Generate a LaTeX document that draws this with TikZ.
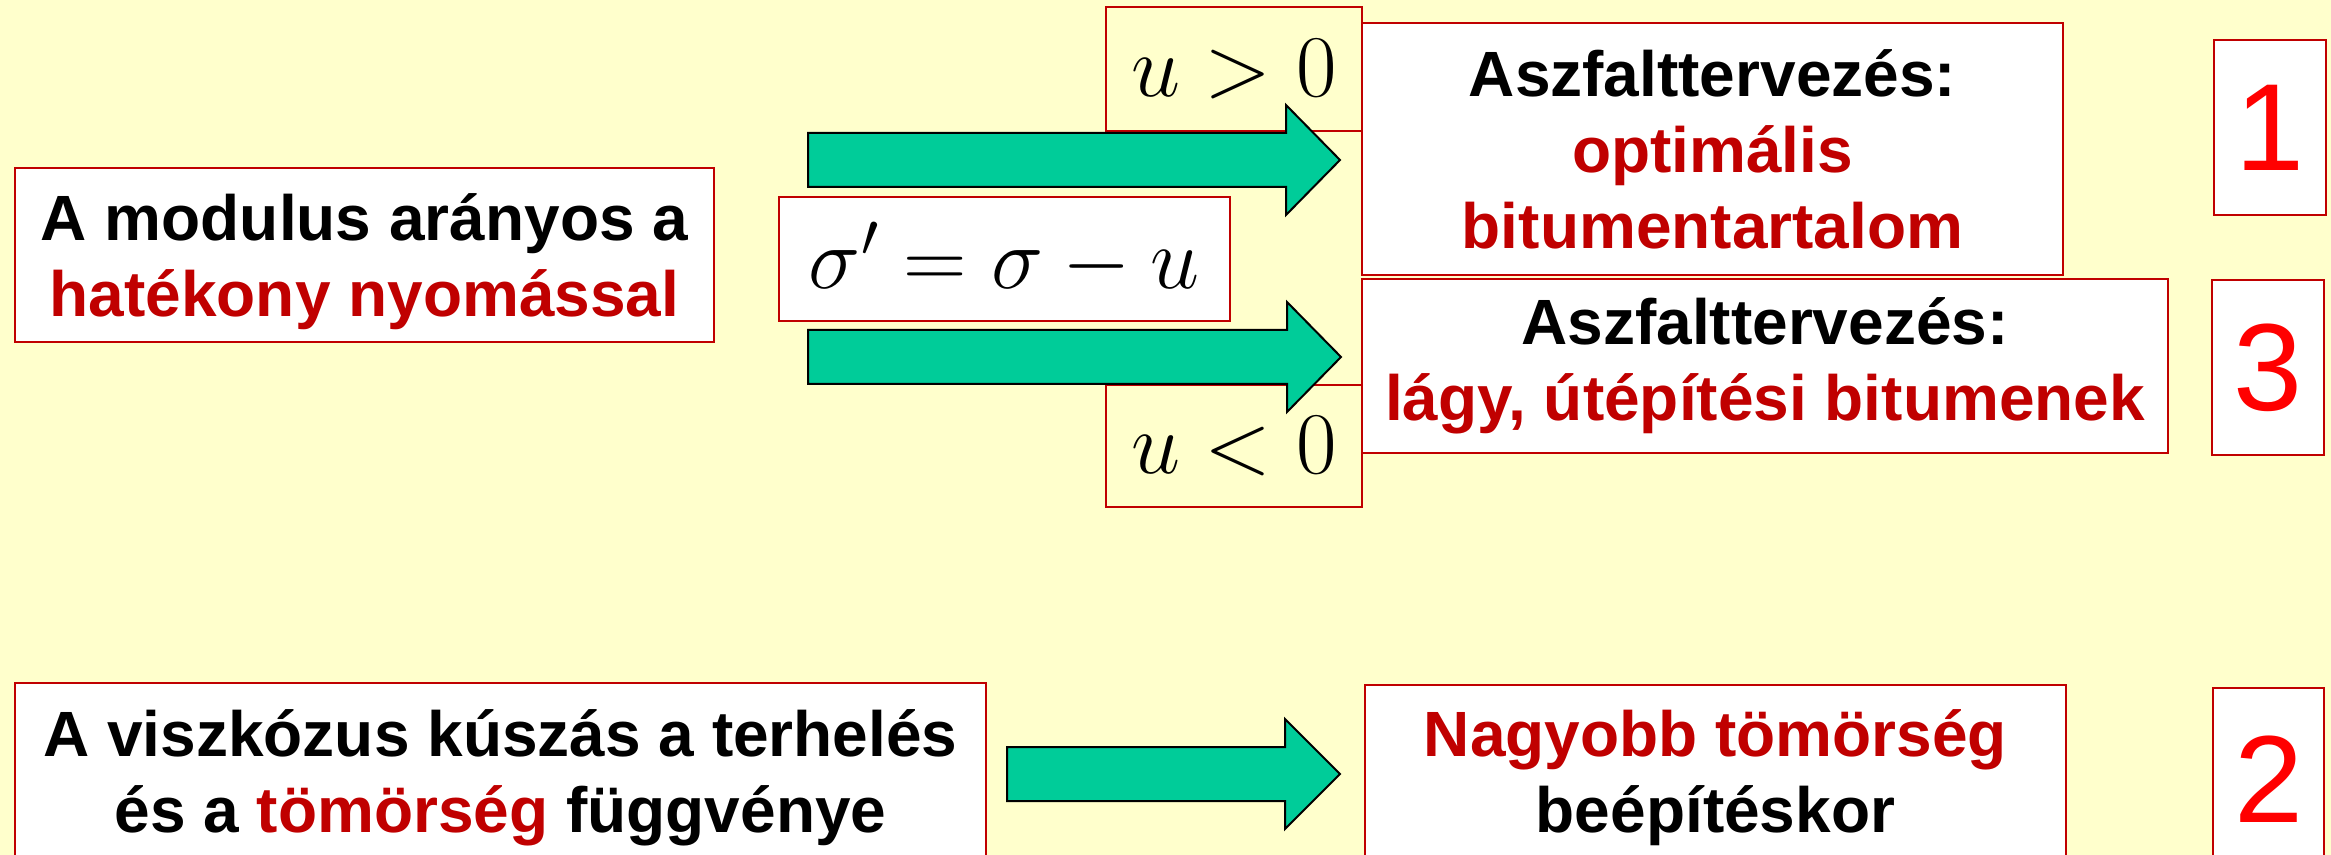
\RequirePackage{fix-cm}
\documentclass[tikz,border=0pt]{standalone}
\usepackage[no-math]{fontspec}
\setmainfont{Liberation Sans}
\definecolor{bgyellow}{HTML}{FFFFCC}
\definecolor{dred}{HTML}{C00000}
\definecolor{numred}{HTML}{FF0000}
\definecolor{arrowgreen}{HTML}{00CC99}
\tikzset{
  box/.style={draw=dred, line width=1.2pt, fill=white, inner sep=0pt, align=center,
    font=\bfseries\fontsize{32}{38}\selectfont},
  ubox/.style={draw=dred, line width=1.2pt, inner sep=0pt, font=\fontsize{44}{50}\selectfont},
  numbox/.style={draw=dred, line width=1.2pt, fill=white, inner sep=0pt, text=numred,
    font=\fontsize{62}{70}\selectfont},
  blockarrow/.style={fill=arrowgreen, draw=black, line width=1pt, line join=miter},
}
\begin{document}
\begin{tikzpicture}[x=0.5pt,y=-0.5pt]
\useasboundingbox (0,0) rectangle (2331,855);
\clip (0,0) rectangle (2331,855);
\fill[bgyellow] (0,0) rectangle (2331,855);

% top-left box
\node[box, text depth=0pt, minimum width=349.5pt, minimum height=87pt] (modA) at (364.5,255)
  {A modulus arányos a\\ {\color{dred}hatékony nyomással}};
% sigma box
\node[box, font=\fontsize{44}{50}\selectfont, minimum width=225.5pt, minimum height=62pt] (sig) at (1004.5,259)
  {$\sigma' = \sigma - u$};
% u boxes
\node[ubox, minimum width=128pt, minimum height=62pt] (uplus) at (1234,69) {$u>0$};
\node[ubox, minimum width=128pt, minimum height=61pt] (uminus) at (1234,446) {$u<0$};
% right boxes
\node[box, minimum width=350.5pt, minimum height=126pt] (asz1) at (1712.5,149)
  {Aszfalttervezés:\\ {\color{dred}optimális}\\ {\color{dred}bitumentartalom}};
\node[box, minimum width=403pt, minimum height=87pt] (asz3) at (1765,366)
  {Aszfalttervezés:\\ {\color{dred}lágy, útépítési bitumenek}};
% number boxes
\node[numbox, minimum width=56pt, minimum height=87.5pt] (n1) at (2270,127.5) {1};
\node[numbox, minimum width=56pt, minimum height=87.5pt] (n3) at (2268,367.5) {3};
\node[numbox, minimum width=55.5pt, minimum height=91pt] (n2) at (2268.5,779) {2};
% bottom boxes
\node[box, minimum width=485.5pt, minimum height=95pt] (visz) at (500.5,778)
  {A viszkózus kúszás a terhelés\\ és a {\color{dred}tömörség} függvénye};
\node[box, minimum width=350.5pt, minimum height=93pt] (nagy) at (1715.5,778)
  {{\color{dred}Nagyobb tömörség}\\ beépítéskor};

% block arrows
\draw[blockarrow] (808,133) -- (1286,133) -- (1286,105) -- (1340,160) -- (1286,215)
  -- (1286,187) -- (808,187) -- cycle;
\draw[blockarrow] (808,330) -- (1287,330) -- (1287,302) -- (1341,357) -- (1287,412)
  -- (1287,384) -- (808,384) -- cycle;
\draw[blockarrow] (1007,747) -- (1285,747) -- (1285,719) -- (1340,774) -- (1285,829)
  -- (1285,801) -- (1007,801) -- cycle;
\end{tikzpicture}
\end{document}
